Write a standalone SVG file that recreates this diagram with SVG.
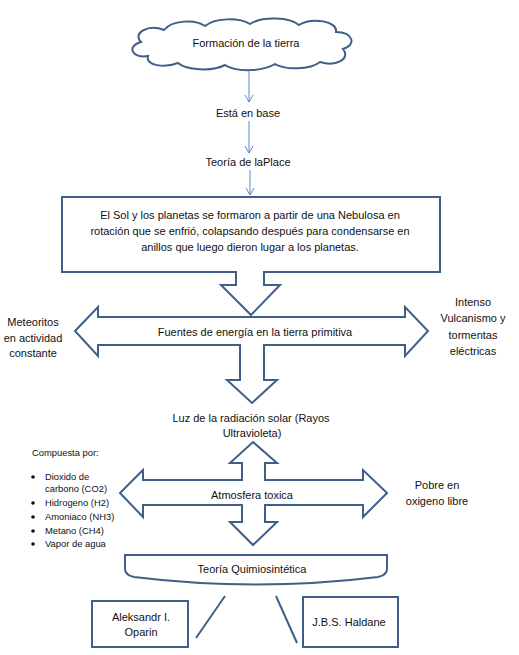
<svg xmlns="http://www.w3.org/2000/svg" width="519" height="655" viewBox="0 0 519 655">
<defs>
<marker id="ah" markerWidth="10" markerHeight="10" refX="8" refY="5" orient="auto" markerUnits="userSpaceOnUse">
<path d="M1,1 L8,5 L1,9" fill="none" stroke="#5B87C5" stroke-width="1"/>
</marker>
</defs>
<style>
text{font-family:"Liberation Sans",Arial,sans-serif;font-size:11px;fill:#111;text-anchor:middle}
.sh{fill:#fff;stroke:#3F5E8A;stroke-width:2;stroke-linejoin:miter}
.thin{stroke:#5B87C5;stroke-width:1;fill:none}
.sm{font-size:9.4px;text-anchor:start}
.ln{stroke:#3F5E8A;stroke-width:2;fill:none}
</style>
<rect width="519" height="655" fill="#fff"/>
<g id="connectors">
<line class="thin" x1="249" y1="68" x2="249" y2="102" marker-end="url(#ah)"/>
<line class="thin" x1="249" y1="121" x2="249" y2="153" marker-end="url(#ah)"/>
<line class="thin" x1="250" y1="170" x2="250" y2="195" marker-end="url(#ah)"/>
<line class="ln" x1="225" y1="596" x2="196" y2="638"/>
<line class="ln" x1="276" y1="596" x2="297" y2="643"/>
</g>
<g id="cloud">
<path class="sh" d="M148,56 C132,59 126,46 141,42 C132,33 148,24 164,30 C172,20 195,19 205,26 C216,17 240,18 250,24 C262,16 290,17 299,25 C312,17 338,21 336,32 C353,32 357,45 343,49 C351,59 336,67 320,62 C310,70 285,70 275,64 C262,72 235,72 225,65 C212,72 186,70 178,63 C165,68 145,66 148,56 Z"/>
<text x="246" y="47">Formación de la tierra</text>
</g>
<g id="base"><text x="248" y="117">Está en base</text></g>
<g id="laplace"><text x="248" y="166">Teoría de laPlace</text></g>
<g id="nebulosa">
<path class="sh" d="M236,272 H62 V197 H440 V272 H264"/>
<text x="250" y="219">El Sol y los planetas se formaron a partir de una Nebulosa en</text>
<text x="250" y="235">rotación que se enfrió, colapsando después para condensarse en</text>
<text x="250" y="251">anillos que luego dieron lugar a los planetas.</text>
</g>
<g id="fuentes">
<path class="sh" d="M75,331 L98,307 V317 H405 V307 L428,331 L405,356 V345 H264 V380 H277 L252,403 L227,380 H240 V345 H98 V356 Z"/>
<path class="sh" d="M236,271 V285 H221 L251,315 L280,285 H264 V271"/>
<text x="255" y="336">Fuentes de energía en la tierra primitiva</text>
</g>
<g id="meteoritos">
<text x="33" y="326">Meteoritos</text>
<text x="33" y="342">en actividad</text>
<text x="33" y="357">constante</text>
</g>
<g id="vulcanismo">
<text x="473" y="306">Intenso</text>
<text x="473" y="322">Vulcanismo y</text>
<text x="473" y="339">tormentas</text>
<text x="473" y="355">eléctricas</text>
</g>
<g id="luz">
<text x="251" y="422">Luz de la radiación solar (Rayos</text>
<text x="252" y="437">Ultravioleta)</text>
</g>
<g id="atmosfera">
<path class="sh" d="M253,442 L277,463 H265 V480 H363 V470 L387,493 L363,517 V505 H265 V522 H277 L253,545 L230,522 H242 V505 H143 V517 L120,493 L143,470 V480 H242 V463 H230 Z"/>
<text x="252" y="499">Atmosfera toxica</text>
</g>
<g id="pobre">
<text x="437" y="489">Pobre en</text>
<text x="437" y="505">oxigeno libre</text>
</g>
<g id="compuesta">
<text class="sm" x="32" y="456">Compuesta por:</text>
<circle cx="33" cy="477" r="1.8" fill="#111"/>
<circle cx="33" cy="503" r="1.8" fill="#111"/>
<circle cx="33" cy="517" r="1.8" fill="#111"/>
<circle cx="33" cy="531" r="1.8" fill="#111"/>
<circle cx="33" cy="544" r="1.8" fill="#111"/>
<text class="sm" x="45" y="480">Dioxido de</text>
<text class="sm" x="45" y="492">carbono (CO2)</text>
<text class="sm" x="45" y="506">Hidrogeno (H2)</text>
<text class="sm" x="45" y="520">Amoniaco (NH3)</text>
<text class="sm" x="45" y="534">Metano (CH4)</text>
<text class="sm" x="45" y="547">Vapor de agua</text>
</g>
<g id="quimio">
<path class="sh" d="M125,555 H387 V569 Q387,575 378,577 Q256,592 134,577 Q125,575 125,569 Z"/>
<text x="252" y="573">Teoría Quimiosintética</text>
</g>
<g id="oparin">
<rect class="sh" x="92" y="601" width="96" height="46"/>
<text x="141" y="621">Aleksandr I.</text>
<text x="141" y="636">Oparin</text>
</g>
<g id="haldane">
<rect class="sh" x="303" y="597" width="95" height="50"/>
<text x="349" y="626">J.B.S. Haldane</text>
</g>
</svg>
